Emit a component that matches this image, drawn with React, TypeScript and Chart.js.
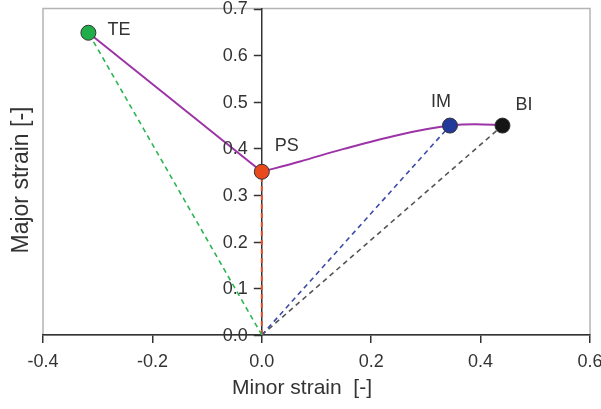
import React, { useEffect, useRef } from "react";
import { Chart, registerables } from "chart.js";

Chart.register(...registerables);

const pointNames = ["TE", "PS", "IM", "BI"];
const pointX = [-0.317, 0.0, 0.344, 0.44];
const pointY = [0.648, 0.35, 0.449, 0.449];
const pointColors = ["#1fae4a", "#e8491d", "#22389a", "#151515"];
const dashColors = ["#2bb552", "#e0502a", "#3c4aa8", "#555555"];

const teLineX = [-0.317, 0.0];
const teLineY = [0.648, 0.35];
const curveX = [0.0, 0.07, 0.15, 0.25, 0.344, 0.39, 0.44];
const curveY = [0.35, 0.372, 0.399, 0.429, 0.449, 0.452, 0.45];

const xTicks = [-0.4, -0.2, 0.0, 0.2, 0.4, 0.6];
const yTicks = [0.0, 0.1, 0.2, 0.3, 0.4, 0.5, 0.6, 0.7];

const labelOffsets = [
  [19, -3, "left"],
  [13, -26, "left"],
  [1, -24, "right"],
  [13, -21, "left"],
];

const FONT = "'Liberation Sans', Arial, sans-serif";
const TEXT = "#333333";

export default function App() {
  const ref = useRef<HTMLCanvasElement>(null);

  useEffect(() => {
    if (!ref.current) return;

    const markers = pointX.map((x, i) => ({ x, y: pointY[i] }));
    const dashed = pointX.map((x, i) => ({
      type: "scatter" as const,
      data: [
        { x: 0, y: 0 },
        { x, y: pointY[i] },
      ],
      showLine: true,
      borderColor: dashColors[i],
      borderWidth: i === 1 ? 2 : 1.6,
      borderDash: [5, 4],
      pointRadius: 0,
    }));

    const framePlugin = {
      id: "frame",
      beforeDraw(chart: any) {
        const { ctx, chartArea: a } = chart;
        ctx.save();
        ctx.strokeStyle = "#b4b4b4";
        ctx.lineWidth = 1.5;
        ctx.strokeRect(a.left, a.top, a.right - a.left, a.bottom - a.top);
        ctx.restore();
      },
      beforeDatasetsDraw(chart: any) {
        const { ctx, scales } = chart;
        const ax = scales.x.getPixelForValue(0);
        ctx.save();
        ctx.strokeStyle = "#333333";
        ctx.lineWidth = 1.5;
        yTicks.forEach((v) => {
          const y = Math.round(scales.y.getPixelForValue(v)) + 0.5;
          ctx.beginPath();
          ctx.moveTo(ax - 8, y);
          ctx.lineTo(ax, y);
          ctx.stroke();
        });
        ctx.restore();
      },
      afterDraw(chart: any) {
        const { ctx, chartArea: a, scales } = chart;
        ctx.save();
        ctx.fillStyle = TEXT;
        ctx.font = `18px ${FONT}`;
        ctx.textBaseline = "middle";
        const ax = scales.x.getPixelForValue(0);
        ctx.textAlign = "right";
        yTicks.forEach((v) => {
          ctx.fillText(v.toFixed(1), ax - 14, scales.y.getPixelForValue(v) + 1);
        });
        pointNames.forEach((n, i) => {
          const px = scales.x.getPixelForValue(pointX[i]);
          const py = scales.y.getPixelForValue(pointY[i]);
          const [dx, dy, al] = labelOffsets[i] as [number, number, CanvasTextAlign];
          ctx.textAlign = al;
          ctx.fillText(n, px + dx, py + dy);
        });
        ctx.font = `21px ${FONT}`;
        ctx.textAlign = "center";
        ctx.fillText("Minor strain  [-]", 302, 388);
        ctx.font = `23px ${FONT}`;
        ctx.translate(22, 180);
        ctx.rotate(-Math.PI / 2);
        ctx.fillText("Major strain [-]", 0, 0);
        ctx.restore();
      },
    };

    const chart = new Chart(ref.current, {
      type: "scatter",
      data: {
        datasets: [
          {
            data: markers,
            pointRadius: 7.5,
            pointBackgroundColor: pointColors,
            pointBorderColor: "#333333",
            pointBorderWidth: 1,
            showLine: false,
          },
          {
            data: teLineX.map((x, i) => ({ x, y: teLineY[i] })),
            showLine: true,
            borderColor: "#9c33a6",
            borderWidth: 2,
            pointRadius: 0,
          },
          {
            data: curveX.map((x, i) => ({ x, y: curveY[i] })),
            showLine: true,
            borderColor: "#9c33a6",
            borderWidth: 2,
            pointRadius: 0,
            cubicInterpolationMode: "monotone",
          },
          ...dashed,
        ] as any,
      },
      options: {
        animation: false,
        responsive: true,
        maintainAspectRatio: false,
        layout: { padding: { left: 43, right: 11, top: 5, bottom: 0 } },
        plugins: {
          legend: { display: false },
          tooltip: { enabled: false },
        },
        scales: {
          x: {
            type: "linear",
            position: "bottom",
            min: -0.4,
            max: 0.6,
            afterFit: (s: any) => {
              s.height = 74;
              s.paddingLeft = 0;
              s.paddingRight = 0;
            },
            afterBuildTicks: (s: any) => {
              s.ticks = xTicks.map((v) => ({ value: v }));
            },
            ticks: {
              color: TEXT,
              font: { family: FONT, size: 18 },
              padding: 8,
              maxRotation: 0,
              callback: (v: any) => Number(v).toFixed(1),
            },
            grid: {
              drawOnChartArea: false,
              drawTicks: true,
              tickLength: 8,
              color: "#333333",
              lineWidth: 1.5,
            },
            border: { color: "#333333", width: 1.5 },
          },
          y: {
            type: "linear",
            position: { x: 0 } as any,
            min: 0,
            max: 0.7,
            afterFit: (s: any) => {
              s.paddingTop = 0;
              s.paddingBottom = 0;
            },
            afterBuildTicks: (s: any) => {
              s.ticks = yTicks.map((v) => ({ value: v }));
            },
            ticks: { display: false },
            grid: {
              drawOnChartArea: false,
              drawTicks: false,
            },
            border: { color: "#333333", width: 1.5 },
          },
        },
      },
      plugins: [framePlugin],
    });
    return () => chart.destroy();
  }, []);

  return (
    <div style={{ position: "absolute", left: 0, top: 0, width: 601, height: 409, background: "#fff" }}>
      <canvas ref={ref} />
    </div>
  );
}
